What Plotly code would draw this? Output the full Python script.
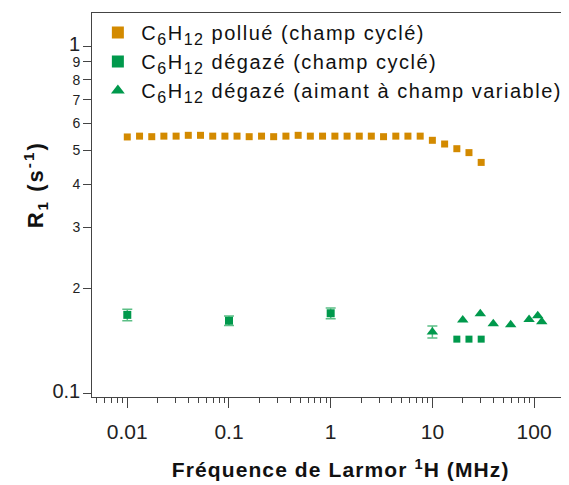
import plotly.graph_objects as go

# orange: C6H12 pollué (champ cyclé)
freq_pollue = [0.01, 0.0132, 0.0174, 0.0229, 0.0302, 0.0398, 0.0525, 0.0692, 0.0912, 0.120,
               0.158, 0.209, 0.275, 0.363, 0.479, 0.631, 0.832, 1.10, 1.45, 1.91,
               2.51, 3.31, 4.37, 5.75, 7.59, 10.0, 13.2, 17.4, 22.9, 30.2]
r1_pollue = [0.547, 0.550, 0.548, 0.550, 0.550, 0.553, 0.553, 0.550, 0.550, 0.550,
             0.548, 0.550, 0.548, 0.550, 0.553, 0.550, 0.550, 0.550, 0.550, 0.550,
             0.550, 0.548, 0.550, 0.550, 0.550, 0.535, 0.522, 0.506, 0.493, 0.462]

# green squares: C6H12 dégazé (champ cyclé)
freq_degaze = [0.01, 0.1, 1.0]
r1_degaze = [0.168, 0.1616, 0.1698]
err_degaze = [0.0065, 0.005, 0.006]
freq_degaze_hf = [17.4, 22.9, 30.2]
r1_degaze_hf = [0.143, 0.143, 0.143]

# green triangles: C6H12 dégazé (aimant à champ variable)
freq_aimant = [10.0, 19.9, 29.6, 39.7, 58.9, 89.3, 108.7, 119.0]
r1_aimant = [0.150, 0.1624, 0.1693, 0.1584, 0.1573, 0.163, 0.167, 0.1606]
err_aimant = [0.006]  # only the 10 MHz point has an error bar

x_ticks = [0.01, 0.1, 1, 10, 100]
x_labels = ["0.01", "0.1", "1", "10", "100"]
y_ticks = [0.1, 0.2, 0.3, 0.4, 0.5, 0.6, 0.7, 0.8, 0.9, 1.0]
y_labels = ["0.1", "2", "3", "4", "5", "6", "7", "8", "9", "1"]

ORANGE = "#D38A00"
GREEN = "#00994C"
FONT = "Liberation Sans, Arial, sans-serif"

big = '<span style="font-size:20px">%s</span>'
y_text = [big % t if t in ("0.1", "1") else t for t in y_labels]


def spaced(txt, px):
    # the reference text is set wider than plain Arial
    return '<span style="letter-spacing:%spx">%s</span>' % (px, txt)


sub = '<sub><span style="font-size:16px">%s</span></sub>'
c6h12 = "C" + sub % "6" + "H" + sub % "12"

fig = go.Figure()
fig.add_trace(go.Scatter(
    x=freq_pollue, y=r1_pollue, mode="markers",
    name=spaced(c6h12 + " pollué (champ cyclé)", 1.5),
    marker=dict(symbol="square", size=7, color=ORANGE)))
fig.add_trace(go.Scatter(
    x=freq_degaze, y=r1_degaze, mode="markers", legendgroup="deg",
    name=spaced(c6h12 + " dégazé (champ cyclé)", 1.5),
    marker=dict(symbol="square", size=8, color=GREEN),
    error_y=dict(type="data", array=err_degaze, color="#5CBF86", thickness=1.5, width=5)))
fig.add_trace(go.Scatter(
    x=freq_degaze_hf, y=r1_degaze_hf, mode="markers", legendgroup="deg", showlegend=False,
    marker=dict(symbol="square", size=7, color=GREEN)))
fig.add_trace(go.Scatter(
    x=freq_aimant[:1], y=r1_aimant[:1], mode="markers", legendgroup="aim", showlegend=False,
    marker=dict(symbol="triangle-up", size=10, color=GREEN),
    error_y=dict(type="data", array=err_aimant, color="#5CBF86", thickness=1.5, width=5)))
fig.add_trace(go.Scatter(
    x=freq_aimant[1:], y=r1_aimant[1:], mode="markers", legendgroup="aim",
    name=spaced(c6h12 + " dégazé (aimant à champ variable)", 1.5),
    marker=dict(symbol="triangle-up", size=10, color=GREEN)))

# page body adds an 8px margin, so the figure is 8px smaller than the window
fig.update_layout(
    width=561, height=477,
    margin=dict(l=84, r=3, t=5, b=88, autoexpand=False),
    paper_bgcolor="white", plot_bgcolor="white",
    font=dict(family=FONT, color="#111"),
    showlegend=True,
    legend=dict(x=0.005, y=1.0, xanchor="left", yanchor="top",
                font=dict(size=20, color="#111"), bgcolor="rgba(0,0,0,0)",
                itemsizing="constant", itemwidth=37, tracegroupgap=0),
    xaxis=dict(
        type="log", range=[-2.347, 2.314], automargin=False,
        tickvals=x_ticks, ticktext=x_labels,
        ticks="outside", ticklen=10, tickwidth=1, tickcolor="#444",
        ticklabelstandoff=6,
        tickfont=dict(size=21, color="#222"),
        minor=dict(ticks="outside", ticklen=5, tickwidth=1, tickcolor="#444", dtick="D1", showgrid=False),
        showline=True, linecolor="#444", linewidth=1, mirror=True,
        showgrid=False, zeroline=False,
        title=dict(text="&nbsp;&nbsp;&nbsp;&nbsp;<b>" + spaced("Fréquence de Larmor <sup>1</sup>H (MHz)", 1.1) + "</b>",
                   font=dict(size=21, color="#111"), standoff=20)),
    yaxis=dict(
        type="log", range=[-1.0114, 0.0952], automargin=False,
        tickvals=y_ticks, ticktext=y_text,
        ticks="outside", ticklen=8, tickwidth=1, tickcolor="#444",
        tickfont=dict(size=14, color="#222"),
        showline=True, linecolor="#444", linewidth=1, mirror=True,
        showgrid=False, zeroline=False,
        title=dict(text="<b>" + spaced("&nbsp;&nbsp;&nbsp;&nbsp;&nbsp;R<sub>1</sub> (s<sup>-1</sup>)", 2) + "</b>",
                   font=dict(size=22, color="#111"), standoff=2)),
)

fig.write_html("out.html")
